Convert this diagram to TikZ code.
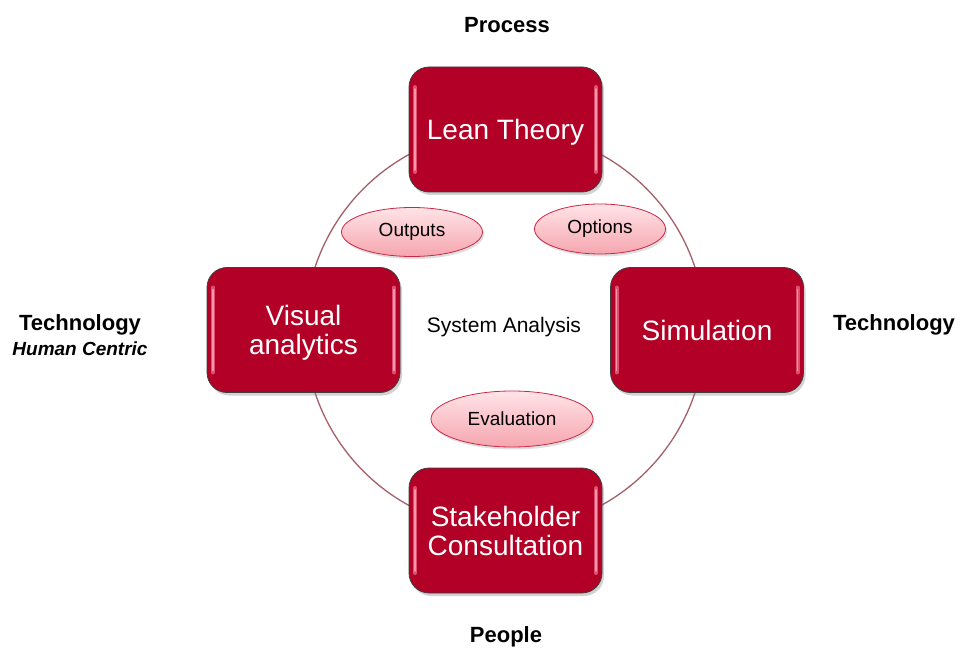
\documentclass[tikz,border=0pt]{standalone}
\usepackage{fontspec}
\setmainfont{Liberation Sans}
\usetikzlibrary{shadows,shapes.geometric}
\definecolor{boxred}{RGB}{178,0,38}
\definecolor{ringcol}{RGB}{165,95,105}
\definecolor{ellborder}{RGB}{200,40,70}
\definecolor{elltop}{RGB}{255,228,231}
\definecolor{ellbot}{RGB}{246,165,175}
\definecolor{gloss}{RGB}{222,80,110}
\definecolor{glosshi}{RGB}{245,150,170}
\begin{document}
\begin{tikzpicture}[x=1pt,y=-1pt,
  redbox/.style={draw=black!75, line width=0.8pt, fill=boxred, rounded corners=20pt,
    minimum width=193pt, minimum height=125pt, text=white,
    font=\fontsize{28}{29}\selectfont, align=center, inner sep=0pt, text depth=0pt,
    drop shadow={opacity=0.35, shadow xshift=2pt, shadow yshift=-3pt},
    path picture={
      \draw[gloss, line width=4pt, line cap=round]
        ([xshift=6pt,yshift=-20pt]path picture bounding box.north west) --
        ([xshift=6pt,yshift=20pt]path picture bounding box.south west);
      \draw[glosshi, line width=1.6pt, line cap=round]
        ([xshift=6pt,yshift=-22pt]path picture bounding box.north west) --
        ([xshift=6pt,yshift=22pt]path picture bounding box.south west);
      \draw[gloss, line width=4pt, line cap=round]
        ([xshift=-6pt,yshift=-20pt]path picture bounding box.north east) --
        ([xshift=-6pt,yshift=20pt]path picture bounding box.south east);
      \draw[glosshi, line width=1.6pt, line cap=round]
        ([xshift=-6pt,yshift=-22pt]path picture bounding box.north east) --
        ([xshift=-6pt,yshift=22pt]path picture bounding box.south east);
    }},
  pinkell/.style={ellipse, draw=ellborder, line width=0.8pt, top color=elltop, bottom color=ellbot,
    inner sep=0pt, font=\fontsize{19}{21}\selectfont,
    drop shadow={opacity=0.25, shadow xshift=1.5pt, shadow yshift=-2.5pt}},
  headlabel/.style={font=\bfseries\fontsize{22}{24}\selectfont, inner sep=0pt}
]
\useasboundingbox (0,0) rectangle (962,650);
\fill[white] (0,0) rectangle (962,650);

\coordinate (ringc) at (505,330);
\draw[ringcol, line width=1.3pt] (ringc) circle (200pt);

\node[redbox] (lean) at (505.5,129.5) {Lean Theory};
\node[redbox] (visual) at (303.5,330) {Visual\\analytics};
\node[redbox] (sim) at (707,330) {Simulation};
\node[redbox] (stake) at (505.5,530.5) {Stakeholder\\Consultation};

\node[pinkell, minimum width=141pt, minimum height=49pt] (outputs) at (412,232) {Outputs};
\node[pinkell, minimum width=131pt, minimum height=50pt] (options) at (600,229) {Options};
\node[pinkell, minimum width=162pt, minimum height=56pt] (eval) at (512,419) {Evaluation};

\node[font=\fontsize{21}{23}\selectfont, inner sep=0pt, text depth=0pt] (sys) at (504,325) {System Analysis};

\node[headlabel] (process) at (507,25) {Process};
\node[headlabel] (people) at (506,637) {People};
\node[headlabel] (techR) at (894,325) {Technology};
\node[headlabel] (techL) at (80,325) {Technology};
\node[font=\bfseries\itshape\fontsize{19}{21}\selectfont, inner sep=0pt] (human) at (80,349) {Human Centric};
\end{tikzpicture}
\end{document}
